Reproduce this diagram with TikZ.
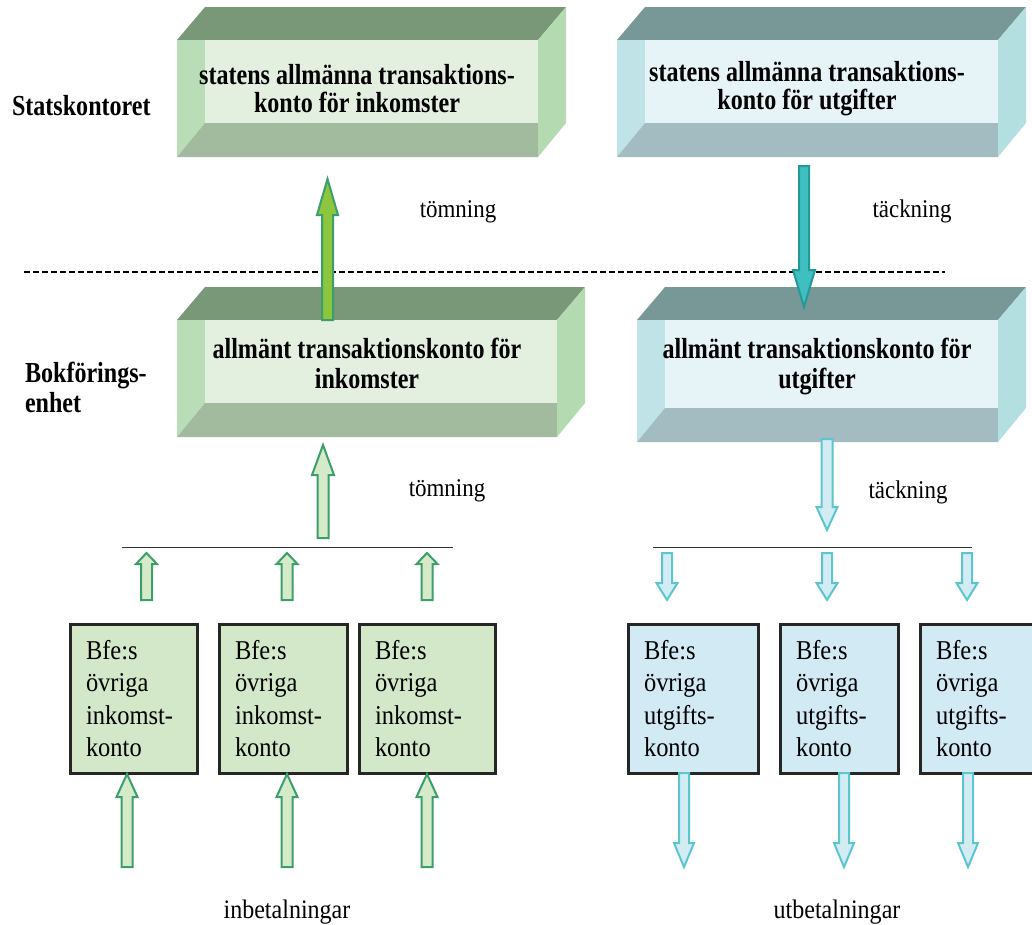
\documentclass[tikz,border=0pt]{standalone}
\usepackage{fontspec}
\setmainfont{Liberation Serif}[FakeStretch=0.9]
\newfontfamily\headfont{Liberation Serif}[FakeStretch=0.83]
\usepackage{tikz}
\usetikzlibrary{shapes,calc,positioning}

\definecolor{gtop}{HTML}{789878}
\definecolor{gleft}{HTML}{B9DDB6}
\definecolor{gfront}{HTML}{E3EFDF}
\definecolor{gbottom}{HTML}{A2BA9D}
\definecolor{gright}{HTML}{B3DAB0}
\definecolor{btop}{HTML}{789898}
\definecolor{bleft}{HTML}{BFE3E6}
\definecolor{bfront}{HTML}{E6F3F7}
\definecolor{bbottom}{HTML}{A3BCC1}
\definecolor{bright}{HTML}{B3DFE1}
\definecolor{garrline}{HTML}{3C9E6A}
\definecolor{garrfill}{HTML}{D4EAC8}
\definecolor{barrline}{HTML}{5CC6CE}
\definecolor{barrfill}{HTML}{D3ECF4}
\definecolor{gacct}{HTML}{D3E8C8}
\definecolor{bacct}{HTML}{D2EAF4}
\definecolor{limegreen}{HTML}{8CC63F}
\definecolor{tealfill}{HTML}{3FBFC0}
\definecolor{tealline}{HTML}{23999A}

% colour prefix, left, front right, top, bottom
\newcommand{\bevelbox}[5]{
  \fill[#1top] (#2,#4+33) -- (#2+28,#4) -- (#3+28,#4) -- (#3,#4+33) -- cycle;
  \fill[#1left] (#2,#4+33) -- (#2+28,#4+33) -- (#2+28,#5-34) -- (#2,#5) -- cycle;
  \fill[#1front] (#2+28,#4+33) rectangle (#3,#5-34);
  \fill[#1bottom] (#2,#5) -- (#2+28,#5-34) -- (#3,#5-34) -- (#3,#5) -- cycle;
  \fill[#1right] (#3,#4+33) -- (#3+28,#4) -- (#3+28,#5-34) -- (#3,#5) -- cycle;
}
% style, x, tail, head base, tip, half shaft, half head
\newcommand{\blockarrow}[7]{
  \draw[#1] (#2-#6,#3) -- (#2-#6,#4) -- (#2-#7,#4) -- (#2,#5) -- (#2+#7,#4) -- (#2+#6,#4) -- (#2+#6,#3) -- cycle;
}

\begin{document}
\begin{tikzpicture}[x=1pt, y=-1pt, line join=miter,
    headtext/.style={font=\headfont\bfseries\fontsize{29}{#1}\selectfont, align=center},
    headtext/.default=28,
    sidetext/.style={font=\headfont\bfseries\fontsize{29}{30}\selectfont, align=left},
    flowtext/.style={font=\fontsize{25.5}{28}\selectfont, anchor=base},
    acct/.style={draw=black!85, line width=3pt, inner xsep=16pt, align=left,
      minimum height=149pt, anchor=north west, font=\fontsize{27.2}{32.5}\selectfont},
    garr/.style={draw=garrline, fill=garrfill, line width=2pt},
    barr/.style={draw=barrline, fill=barrfill, line width=2pt}]
   \useasboundingbox (0,0) rectangle (1032,924);

   % transaction accounts
   \bevelbox{g}{177}{538}{7}{157}
   \bevelbox{b}{617}{998}{7}{157}
   \bevelbox{g}{177}{557}{287}{437}
   \bevelbox{b}{637}{998}{287}{442}
   \node (sin) [headtext] at (357,89) {statens allmänna transaktions-\\konto för inkomster};
   \node (sut) [headtext] at (807,89) {statens allmänna transaktions-\\konto för utgifter};
   \node (ain) [headtext=30] at (367,363) {allmänt transaktionskonto för\\inkomster};
   \node (aut) [headtext=30] at (817,366) {allmänt transaktionskonto för\\utgifter};

   \node (stk) [sidetext, anchor=base west] at (8.5,115) {Statskontoret};
   \node (bfe) [sidetext, anchor=west] at (21.5,387) {Bokförings-\\enhet};

   \coordinate (dl) at (24,272);
   \coordinate (dr) at (945,272);
   \draw[line width=1.5pt, dash pattern=on 6pt off 3pt] (dl) -- (dr);

   \blockarrow{draw=garrline, fill=limegreen, line width=2pt}{327.5}{320}{215}{179}{5.5}{10.5}
   \blockarrow{draw=tealline, fill=tealfill, line width=2pt}{804}{166}{270}{307}{5}{11}

   \node (t1) [flowtext] at (458,217) {tömning};
   \node (t2) [flowtext] at (912,217) {täckning};
   \node (t3) [flowtext] at (447,496) {tömning};
   \node (t4) [flowtext] at (908,498) {täckning};

   % distribution
   \blockarrow{garr}{323}{538}{475}{445}{5.5}{11}
   \blockarrow{barr}{827}{439}{507}{530}{5.5}{10.5}
   \coordinate (gl) at (122,547);
   \coordinate (gr) at (453,547);
   \coordinate (bl) at (653,547);
   \coordinate (br) at (972,547);
   \draw[black!80, line width=1pt] (gl) -- (gr);
   \draw[black!80, line width=1pt] (bl) -- (br);

   \foreach \x in {146.5,287,427}
     {\blockarrow{garr}{\x}{600}{564}{553}{5.5}{10.5}}
   \foreach \x in {667,827,967}
     {\blockarrow{barr}{\x}{553}{583}{600}{5}{10.5}}

   % other accounts
   \node (g1) [acct, fill=gacct, text width=95pt] at (68.5,622.5) {Bfe:s\\övriga\\inkomst-\\konto};
   \node (g2) [acct, fill=gacct, text width=96pt] at (217.5,622.5) {Bfe:s\\övriga\\inkomst-\\konto};
   \node (g3) [acct, fill=gacct, text width=104pt] at (357.5,622.5) {Bfe:s\\övriga\\inkomst-\\konto};
   \node (b1) [acct, fill=bacct, text width=98pt] at (626.5,622.5) {Bfe:s\\övriga\\utgifts-\\konto};
   \node (b2) [acct, fill=bacct, text width=86pt] at (778.5,622.5) {Bfe:s\\övriga\\utgifts-\\konto};
   \node (b3) [acct, fill=bacct, text width=84pt] at (918.5,622.5) {Bfe:s\\övriga\\utgifts-\\konto};

   \foreach \x in {127,287,427}
     {\blockarrow{garr}{\x}{867}{797}{774}{5.5}{10.5}}
   \foreach \x in {684,844,968}
     {\blockarrow{barr}{\x}{773}{843}{867}{5}{10}}

   \node (inb) [flowtext, font=\fontsize{26.7}{30}\selectfont] at (287,918) {inbetalningar};
   \node (utb) [flowtext, font=\fontsize{26.7}{30}\selectfont] at (837,918) {utbetalningar};
\end{tikzpicture}
\end{document}
